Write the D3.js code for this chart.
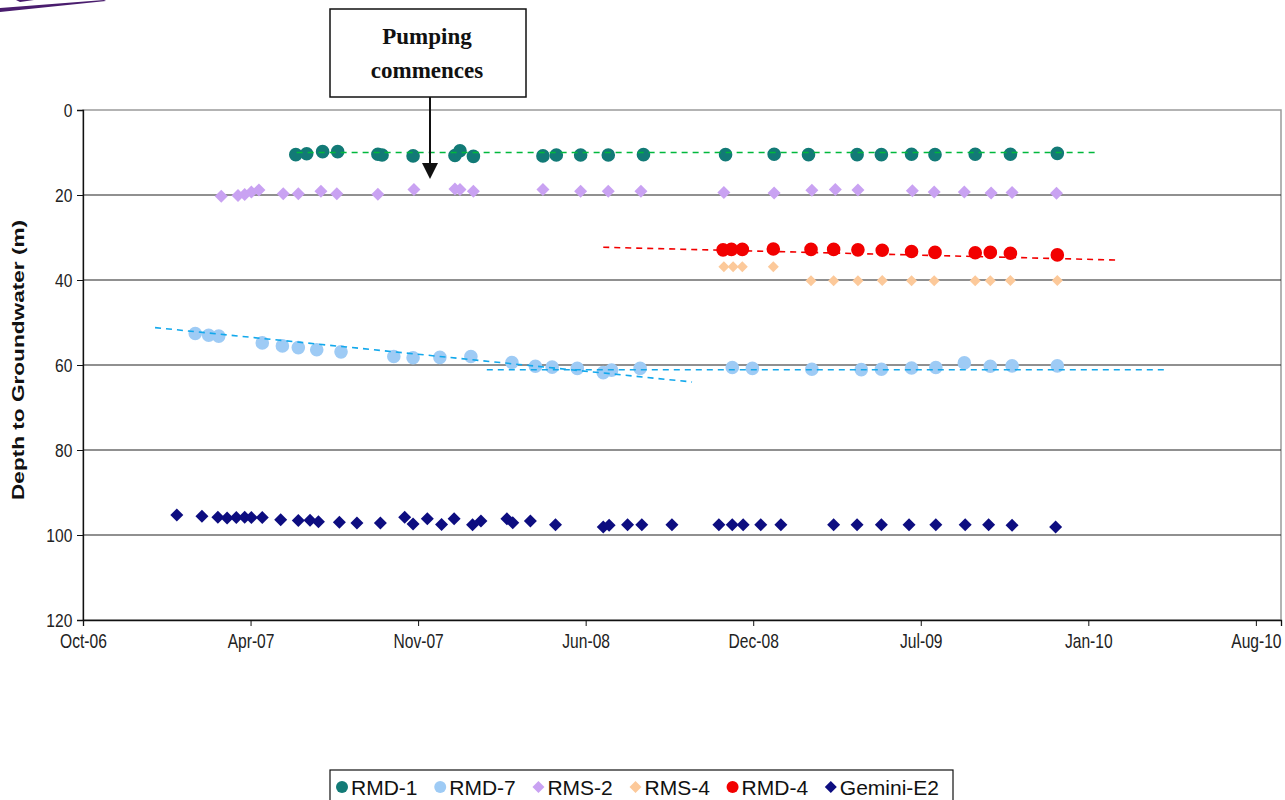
<!DOCTYPE html>
<html>
<head>
<meta charset="utf-8">
<script src="https://cdn.jsdelivr.net/npm/d3@7"></script>
<style>
  body { margin: 0; background: #fff; }
  svg { display: block; }
  .tick text { font-family: "Liberation Sans", Arial, sans-serif; }
</style>
</head>
<body>
<svg width="1285" height="800"></svg>
<script>
// depth to groundwater readings (date, depth m)
var rmd1 = [
  ["2007-06-21", 10.5], ["2007-07-04", 10.3], ["2007-07-23", 9.8], ["2007-08-10", 9.8],
  ["2007-09-27", 10.4], ["2007-10-02", 10.6], ["2007-11-08", 10.8], ["2007-12-28", 10.7],
  ["2008-01-03", 9.6], ["2008-01-19", 10.9], ["2008-04-11", 10.8], ["2008-04-27", 10.6],
  ["2008-05-26", 10.6], ["2008-06-28", 10.6], ["2008-08-09", 10.5], ["2008-11-15", 10.5],
  ["2009-01-12", 10.4], ["2009-02-22", 10.5], ["2009-04-21", 10.5], ["2009-05-20", 10.5],
  ["2009-06-25", 10.4], ["2009-07-23", 10.5], ["2009-09-09", 10.4], ["2009-10-21", 10.4],
  ["2009-12-16", 10.2]
];

var rmd7 = [
  ["2007-02-21", 52.6], ["2007-03-09", 53.0], ["2007-03-21", 53.2], ["2007-05-12", 54.8],
  ["2007-06-05", 55.5], ["2007-06-24", 55.9], ["2007-07-16", 56.4], ["2007-08-14", 56.9],
  ["2007-10-16", 58.0], ["2007-11-08", 58.3], ["2007-12-10", 58.2], ["2008-01-16", 58.0],
  ["2008-03-05", 59.4], ["2008-04-02", 60.3], ["2008-04-22", 60.5], ["2008-05-22", 60.8],
  ["2008-06-22", 61.8], ["2008-07-02", 61.2], ["2008-08-05", 60.8], ["2008-11-23", 60.6],
  ["2008-12-17", 60.8], ["2009-02-26", 61.0], ["2009-04-26", 61.1], ["2009-05-20", 61.0],
  ["2009-06-25", 60.7], ["2009-07-24", 60.6], ["2009-08-27", 59.5], ["2009-09-27", 60.3],
  ["2009-10-23", 60.2], ["2009-12-16", 60.2]
];

var rms2 = [
  ["2007-03-24", 20.3], ["2007-04-13", 20.1], ["2007-04-21", 19.9], ["2007-04-29", 19.3],
  ["2007-05-08", 18.8], ["2007-06-06", 19.7], ["2007-06-24", 19.7], ["2007-07-21", 19.1],
  ["2007-08-09", 19.7], ["2007-09-27", 19.8], ["2007-11-09", 18.7], ["2007-12-28", 18.6],
  ["2008-01-03", 18.7], ["2008-01-19", 19.1], ["2008-04-11", 18.7], ["2008-05-26", 19.1],
  ["2008-06-28", 19.1], ["2008-08-06", 19.1], ["2008-11-13", 19.4], ["2009-01-12", 19.5],
  ["2009-02-26", 18.9], ["2009-03-26", 18.7], ["2009-04-22", 18.8], ["2009-06-26", 19.0],
  ["2009-07-22", 19.3], ["2009-08-27", 19.3], ["2009-09-28", 19.5], ["2009-10-23", 19.4],
  ["2009-12-15", 19.6]
];

var rms4 = [
  ["2008-11-13", 36.9], ["2008-11-24", 36.9], ["2008-12-05", 36.9], ["2009-01-11", 36.9],
  ["2009-02-25", 40.2], ["2009-03-24", 40.2], ["2009-04-22", 40.2], ["2009-05-21", 40.1],
  ["2009-06-25", 40.2], ["2009-07-22", 40.2], ["2009-09-09", 40.2], ["2009-09-27", 40.2],
  ["2009-10-21", 40.1], ["2009-12-16", 40.1]
];

var rmd4 = [
  ["2008-11-12", 32.9], ["2008-11-22", 32.8], ["2008-12-05", 32.8], ["2009-01-11", 32.7],
  ["2009-02-25", 32.8], ["2009-03-24", 32.8], ["2009-04-22", 32.9], ["2009-05-21", 33.0],
  ["2009-06-25", 33.3], ["2009-07-23", 33.5], ["2009-09-09", 33.6], ["2009-09-27", 33.5],
  ["2009-10-21", 33.7], ["2009-12-16", 34.1]
];

var geminiE2 = [
  ["2007-01-30", 95.3], ["2007-03-01", 95.6], ["2007-03-20", 95.8], ["2007-03-31", 96.0],
  ["2007-04-11", 95.9], ["2007-04-21", 95.8], ["2007-04-29", 95.9], ["2007-05-12", 95.9],
  ["2007-06-03", 96.4], ["2007-06-24", 96.6], ["2007-07-08", 96.5], ["2007-07-18", 96.9],
  ["2007-08-12", 97.0], ["2007-09-02", 97.2], ["2007-09-30", 97.2], ["2007-10-29", 95.8],
  ["2007-11-08", 97.4], ["2007-11-25", 96.2], ["2007-12-12", 97.5], ["2007-12-27", 96.2],
  ["2008-01-18", 97.6], ["2008-01-28", 96.7], ["2008-02-28", 96.2], ["2008-03-06", 97.1],
  ["2008-03-27", 96.7], ["2008-04-26", 97.6], ["2008-06-22", 98.1], ["2008-06-29", 97.7],
  ["2008-07-21", 97.6], ["2008-08-07", 97.6], ["2008-09-12", 97.6], ["2008-11-07", 97.6],
  ["2008-11-23", 97.6], ["2008-12-06", 97.6], ["2008-12-27", 97.6], ["2009-01-20", 97.6],
  ["2009-03-24", 97.6], ["2009-04-21", 97.6], ["2009-05-20", 97.6], ["2009-06-22", 97.6],
  ["2009-07-24", 97.6], ["2009-08-28", 97.6], ["2009-09-25", 97.6], ["2009-10-23", 97.7],
  ["2009-12-14", 98.1]
];

// trendlines (start / end)
var trendRmd1 = [["2007-06-22", 10.0], ["2010-02-03", 10.0]];
var trendRmd4 = [["2008-06-22", 32.3], ["2010-02-24", 35.3]];
var trendRmd7a = [["2007-01-04", 51.2], ["2008-10-06", 64.0]];
var trendRmd7b = [["2008-02-04", 61.1], ["2010-04-25", 61.1]];

var xStart = "2006-10-10", xEnd = "2010-09-09", xStepDays = 200;
var yTicks = [0, 20, 40, 60, 80, 100, 120];

var series = [
  { name: "RMD-1", data: rmd1, shape: "circle", size: 6.8, color: "#127a76" },
  { name: "RMD-7", data: rmd7, shape: "circle", size: 6.8, color: "#9ecbf5" },
  { name: "RMS-2", data: rms2, shape: "diamond", size: 6.5, color: "#c9a2f2" },
  { name: "RMS-4", data: rms4, shape: "diamond", size: 5.5, color: "#fcc99a" },
  { name: "RMD-4", data: rmd4, shape: "circle", size: 6.8, color: "#f20000" },
  { name: "Gemini-E2", data: geminiE2, shape: "diamond", size: 6.5, color: "#0d0d80" }
];

var trends = [
  { data: trendRmd1, color: "#00b83c" },
  { data: trendRmd4, color: "#f20000" },
  { data: trendRmd7a, color: "#12a8ec" },
  { data: trendRmd7b, color: "#12a8ec" }
];

var svg = d3.select("svg");
var parse = d3.utcParse("%Y-%m-%d");

var plotLeft = 83, plotRight = 1281, plotTop = 110, plotBottom = 620;

var x = d3.scaleUtc()
    .domain([parse(xStart), parse(xEnd)])
    .range([plotLeft, plotRight]);

var y = d3.scaleLinear()
    .domain([0, 120])
    .range([plotTop, plotBottom]);

var xTickValues = d3.range(0, 1401, xStepDays).map(function(d) {
    return d3.utcDay.offset(parse(xStart), d);
});

// cropped logo corner
svg.append("path")
    .attr("d", "M0,8 L104,0 L106,1 L0,12 Z M16,0 L34,0 L20,2 Z")
    .attr("fill", "#4a1d6e");

// plot border
svg.append("rect")
    .attr("x", plotLeft).attr("y", plotTop)
    .attr("width", plotRight - plotLeft).attr("height", plotBottom - plotTop)
    .attr("fill", "none")
    .attr("stroke", "#9a9a9a")
    .attr("stroke-width", 1.5);

// gridlines
svg.append("g")
    .selectAll("line")
    .data(yTicks.filter(function(d) { return d > 0 && d < 120; }))
    .enter().append("line")
    .attr("x1", plotLeft).attr("x2", plotRight)
    .attr("y1", function(d) { return y(d); })
    .attr("y2", function(d) { return y(d); })
    .attr("stroke", "#222")
    .attr("stroke-width", 1.2);

// axes
var yAxis = svg.append("g")
    .attr("transform", `translate(${plotLeft},0)`)
    .call(d3.axisLeft(y).tickValues(yTicks).tickSize(6).tickPadding(5));
yAxis.select(".domain").attr("stroke", "#111").attr("stroke-width", 1.3);
yAxis.selectAll(".tick line").attr("stroke", "#111");
yAxis.selectAll(".tick text")
    .attr("font-size", 19)
    .attr("x", -13)
    .attr("transform", "scale(0.82,1)")
    .attr("fill", "#222");

var xAxis = svg.append("g")
    .attr("transform", `translate(0,${plotBottom})`)
    .call(d3.axisBottom(x).tickValues(xTickValues)
        .tickFormat(d3.utcFormat("%b-%y"))
        .tickSize(6));
xAxis.select(".domain").attr("stroke", "#111").attr("stroke-width", 1.3);
xAxis.selectAll(".tick line").attr("stroke", "#111");
xAxis.selectAll(".tick text")
    .attr("font-size", 20)
    .attr("y", 28)
    .attr("dy", 0)
    .attr("transform", "scale(0.78,1)")
    .attr("fill", "#222");

svg.append("text")
    .attr("transform", `translate(24,${(plotTop + plotBottom) / 2 - 5}) rotate(-90) scale(1.33,1)`)
    .attr("text-anchor", "middle")
    .attr("font-family", "'Liberation Sans', Arial, sans-serif")
    .attr("font-weight", "bold")
    .attr("font-size", 17)
    .attr("fill", "#111")
    .text("Depth to Groundwater (m)");

function markerPath (shape, r) {
    if (shape === "circle") {
        return d3.symbol().type(d3.symbolCircle).size(Math.PI * r * r)();
    }
    return `M0,${-r}L${r},0L0,${r}L${-r},0Z`;
}

// markers
series.forEach(function(s) {
    svg.append("g")
        .attr("class", "series")
        .selectAll("path")
        .data(s.data)
        .enter().append("path")
        .attr("d", markerPath(s.shape, s.size))
        .attr("transform", function(d) {
            return `translate(${x(parse(d[0]))},${y(d[1])})`;
        })
        .attr("fill", s.color);
});

// trendlines
var line = d3.line()
    .x(function(d) { return x(parse(d[0])); })
    .y(function(d) { return y(d[1]); });

trends.forEach(function(t) {
    svg.append("path")
        .attr("d", line(t.data))
        .attr("fill", "none")
        .attr("stroke", t.color)
        .attr("stroke-width", 1.6)
        .attr("stroke-dasharray", "6,5");
});

// annotation
var note = svg.append("g");
note.append("rect")
    .attr("x", 330).attr("y", 9)
    .attr("width", 196).attr("height", 88)
    .attr("fill", "#fff")
    .attr("stroke", "#111")
    .attr("stroke-width", 1.5);
note.selectAll("text")
    .data(["Pumping", "commences"])
    .enter().append("text")
    .attr("x", 427)
    .attr("y", function(d, i) { return 44 + i * 34; })
    .attr("text-anchor", "middle")
    .attr("font-family", "'Liberation Serif', 'Times New Roman', serif")
    .attr("font-weight", "bold")
    .attr("font-size", 23)
    .attr("fill", "#111")
    .text(function(d) { return d; });
note.append("line")
    .attr("x1", 430).attr("x2", 430)
    .attr("y1", 97).attr("y2", 165)
    .attr("stroke", "#111")
    .attr("stroke-width", 2);
note.append("path")
    .attr("d", "M422,163 L438,163 L430,179 Z")
    .attr("fill", "#111");

// legend: items spread to fill the box
var legendW = 623;
var legend = svg.append("g").attr("transform", "translate(330,770)");
legend.append("rect")
    .attr("width", legendW).attr("height", 34)
    .attr("fill", "#fff")
    .attr("stroke", "#111")
    .attr("stroke-width", 1.2);

var items = legend.selectAll("g.item")
    .data(series)
    .enter().append("g")
    .attr("class", "item");
items.append("path")
    .attr("d", function(s) { return markerPath(s.shape, 6); })
    .attr("fill", function(s) { return s.color; });
items.append("text")
    .attr("x", 9)
    .attr("y", 8)
    .attr("font-family", "'Liberation Sans', Arial, sans-serif")
    .attr("font-size", 21)
    .attr("fill", "#111")
    .text(function(s) { return s.name; });

var widths = [];
items.selectAll("text").each(function() { widths.push(this.getComputedTextLength()); });
var textSum = d3.sum(widths);
var gap = (legendW - 12 - 8 - 6 - 9 * series.length - textSum) / (series.length - 1);
var lx = 12;
items.attr("transform", function(s, i) {
    var t = `translate(${lx},17)`;
    lx += 9 + widths[i] + gap;
    return t;
});
</script>
</body>
</html>
